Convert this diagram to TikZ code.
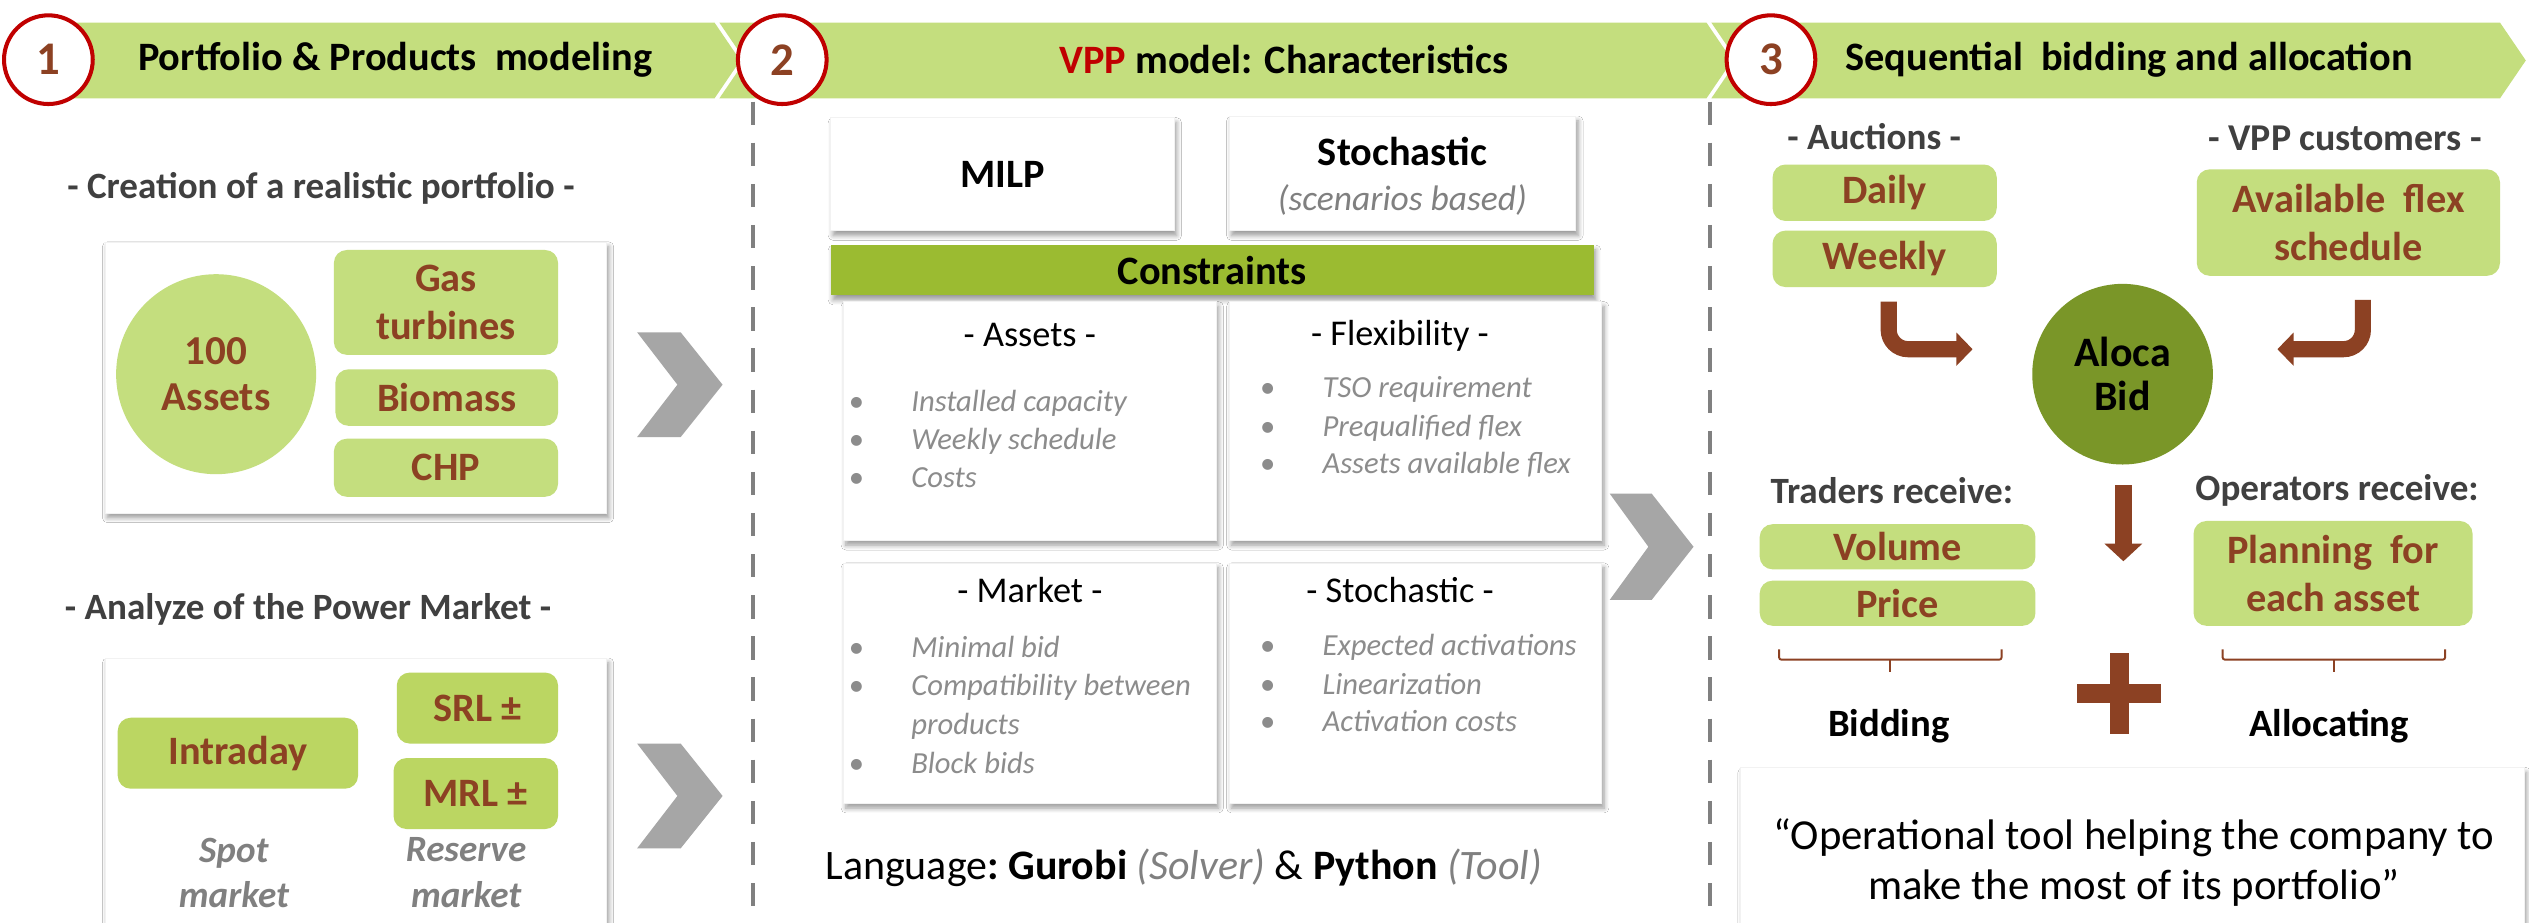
\documentclass[tikz,border=0pt]{standalone}
\usepackage{fontspec}
\setmainfont{Carlito}
\usetikzlibrary{shadows.blur,arrows.meta,calc}
\definecolor{lgreen}{RGB}{196,222,126}
\definecolor{mgreen}{RGB}{187,214,98}
\definecolor{cgreen}{RGB}{155,187,49}
\definecolor{agreen}{RGB}{122,150,40}
\definecolor{mybrown}{RGB}{140,65,35}
\definecolor{cred}{RGB}{192,0,0}
\definecolor{dgray}{RGB}{64,64,64}
\definecolor{mgray}{RGB}{128,128,128}
\definecolor{lgray}{RGB}{140,140,140}
\definecolor{chev}{RGB}{166,166,166}
\newcommand\fsz[2]{\fontsize{#1}{#2}\selectfont}
\tikzset{
  every node/.style={inner sep=0pt, outer sep=0pt},
  wbox/.style={fill=white, draw=black!5, line width=0.4pt,
    blur shadow={shadow xshift=1.5pt, shadow yshift=-3pt, shadow blur radius=3pt, shadow blur steps=6, shadow opacity=40}},
  gbox/.style={fill=lgreen, rounded corners=8pt, text=mybrown, font=\bfseries\fsz{25}{30}, align=center},
  ibox/.style={gbox, fill=mgreen},
  numc/.style={circle, draw=cred, line width=2.5pt, fill=white, minimum size=55pt, text=mybrown, font=\bfseries\fsz{29}{30}},
  htext/.style={font=\bfseries\fsz{25}{30}},
  subt/.style={font=\bfseries\fsz{23}{27}, text=dgray},
  ctitle/.style={font=\fsz{22.5}{26}},
  bul/.style={font=\fsz{19}{23}, text=lgray, anchor=mid},
  btext/.style={font=\itshape\fsz{19}{23}, text=lgray, anchor=mid west},
  chevron/.style={fill=chev},
  barrow/.style={draw=mybrown, line width=10pt, rounded corners=12pt, -{Triangle[length=10pt, width=20pt]}},
  darrow/.style={draw=mybrown, line width=11pt, -{Triangle[length=11pt, width=23pt]}},
  vdash/.style={draw=mgray, line width=2.5pt, dash pattern=on 14.5pt off 11pt},
}
\begin{document}
\begin{tikzpicture}[x=1pt,y=-1pt]
\useasboundingbox (0,0) rectangle (1568,572);
\fill[white] (0,0) rectangle (1568,572);

% header bars
\fill[lgreen] (30,14) -- (443,14) -- (459,37.5) -- (443,61) -- (30,61) -- cycle;
\fill[lgreen] (446,14) -- (1058,14) -- (1074,37.5) -- (1058,61) -- (446,61) -- (462,37.5) -- cycle;
\fill[lgreen] (1061,14) -- (1550,14) -- (1566,37.5) -- (1550,61) -- (1061,61) -- (1077,37.5) -- cycle;

% dashed separators
\draw[vdash] (467,63) -- (467,572);
\draw[vdash] (1060,63) -- (1060,572);

\node[numc] (c1) at (30,37) {1};
\node[numc] (c2) at (485,37) {2};
\node[numc] (c3) at (1098,37) {3};
\node[htext] (h1) at (245,37) {Portfolio \& Products\ \ modeling};
\node[htext] (h2) at (796,37) {\textcolor{cred}{VPP} model: Characteristics};
\node[htext] (h3) at (1320,37) {Sequential\ \ bidding and allocation};

% ---------- panel 1
\node[subt] (t1) at (199,117) {- Creation of a realistic portfolio -};
\node[wbox, minimum width=311pt, minimum height=168pt] (box1) at (220.5,234) {};
\node[circle, fill=lgreen, minimum size=124pt, text=mybrown, font=\bfseries\fsz{25.5}{29}, align=center] (assets) at (134,232) {100\\Assets};
\node[gbox, minimum width=139pt, minimum height=65pt] (gas) at (276.5,187.5) {Gas\\turbines};
\node[gbox, minimum width=138pt, minimum height=35pt] (bio) at (277,246.5) {Biomass};
\node[gbox, minimum width=139pt, minimum height=36pt] (chp) at (276.5,290) {CHP};

\node[subt] (t2) at (191,378) {- Analyze of the Power Market -};
\node[wbox, minimum width=311pt, minimum height=170pt] (box2) at (220.5,493) {};
\node[ibox, minimum width=149pt, minimum height=44pt] (intra) at (147.5,467) {Intraday};
\node[ibox, minimum width=100pt, minimum height=44pt] (srl) at (296,439) {SRL ±};
\node[ibox, minimum width=102pt, minimum height=44pt] (mrl) at (295,492) {MRL ±};
\node[font=\bfseries\itshape\fsz{23}{28}, text=mgray, align=center] (spot) at (145,541) {Spot\\market};
\node[font=\bfseries\itshape\fsz{23}{28}, text=mgray, align=center] (reserve) at (289,541) {Reserve\\market};

\fill[chevron] (395,206) -- (422,206) -- (448,238.5) -- (422,271) -- (395,271) -- (420,238.5) -- cycle;
\fill[chevron] (395,461) -- (422,461) -- (448,493.5) -- (422,526) -- (395,526) -- (420,493.5) -- cycle;

% ---------- panel 2
\node[wbox, minimum width=213pt, minimum height=70pt, font=\bfseries\fsz{25}{30}] (milp) at (621.5,108) {MILP};
\node[wbox, minimum width=215pt, minimum height=71pt] (stoch) at (869.5,107.5) {};
\node[font=\bfseries\fsz{25}{30}] (stocht) at (869.5,94) {Stochastic};
\node[font=\itshape\fsz{22}{26}, text=mgray] (scen) at (869.5,124) {(scenarios based)};
\node[fill=cgreen, minimum width=473pt, minimum height=31pt, font=\bfseries\fsz{25}{30},
  blur shadow={shadow xshift=1.5pt, shadow yshift=-3pt, shadow blur radius=3pt, shadow blur steps=6, shadow opacity=40}] (cons) at (751.5,167.5) {Constraints};

\node[wbox, minimum width=231pt, minimum height=148pt] (ca) at (638.5,261) {};
\node[wbox, minimum width=231pt, minimum height=148pt] (cf) at (877.5,261) {};
\node[wbox, minimum width=231pt, minimum height=149pt] (cm) at (638.5,423.5) {};
\node[wbox, minimum width=231pt, minimum height=149pt] (cs) at (877.5,423.5) {};

\node[ctitle] (cat) at (638.5,208) {- Assets -};
\node[ctitle] (cft) at (868,208) {- Flexibility -};
\node[ctitle] (cmt) at (638.5,366) {- Market -};
\node[ctitle] (cst) at (868,366) {- Stochastic -};

\node[bul] (ba1) at (531,253) {•}; \node[btext] (ta1) at (565,253) {Installed capacity};
\node[bul] (ba2) at (531,276) {•}; \node[btext] (ta2) at (565,276) {Weekly schedule};
\node[bul] (ba3) at (531,300) {•}; \node[btext] (ta3) at (565,300) {Costs};

\node[bul] (bf1) at (786,244) {•}; \node[btext] (tf1) at (820,244) {TSO requirement};
\node[bul] (bf2) at (786,268) {•}; \node[btext] (tf2) at (820,268) {Prequalified flex};
\node[bul] (bf3) at (786,291) {•}; \node[btext] (tf3) at (820,291) {Assets available flex};

\node[bul] (bm1) at (531,405) {•}; \node[btext] (tm1) at (565,405) {Minimal bid};
\node[bul] (bm2) at (531,429) {•}; \node[btext] (tm2) at (565,429) {Compatibility between};
\node[btext] (tm2b) at (565,453) {products};
\node[bul] (bm3) at (531,477) {•}; \node[btext] (tm3) at (565,477) {Block bids};

\node[bul] (bs1) at (786,404) {•}; \node[btext] (ts1) at (820,404) {Expected activations};
\node[bul] (bs2) at (786,428) {•}; \node[btext] (ts2) at (820,428) {Linearization};
\node[bul] (bs3) at (786,451) {•}; \node[btext] (ts3) at (820,451) {Activation costs};

\node[font=\fsz{26}{30}] (lang) at (734,538) {Language\textbf{:\ Gurobi} \textcolor{mgray}{\textit{(Solver)}} \& \textbf{Python} \textcolor{mgray}{\textit{(Tool)}}};

\fill[chevron] (998,306) -- (1024,306) -- (1050,339) -- (1024,372) -- (998,372) -- (1022,339) -- cycle;

% ---------- panel 3
\node[subt] (auct) at (1162,85) {- Auctions -};
\node[subt, font=\bfseries\fsz{23.5}{27}] (vppc) at (1454,86) {- VPP customers -};
\node[gbox, minimum width=139pt, minimum height=35pt] (daily) at (1168.5,119.5) {Daily};
\node[gbox, minimum width=139pt, minimum height=35pt] (weekly) at (1168.5,160.5) {Weekly};
\node[gbox, minimum width=188pt, minimum height=66pt] (avail) at (1456,138) {Available\ \ flex\\schedule};
\node[circle, fill=agreen, minimum size=112pt, font=\bfseries\fsz{26}{27}, align=center] (aloca) at (1316,232) {Aloca\\Bid};

\coordinate (la1) at (1171,187);
\coordinate (la2) at (1223,216.5);
\coordinate (ra1) at (1465,186);
\coordinate (ra2) at (1412,216.5);
\draw[barrow] (la1) |- (la2);
\draw[barrow] (ra1) |- (ra2);

\node[subt] (trad) at (1173,304) {Traders receive:};
\node[subt] (oper) at (1449,304) {Operators receive:};
\coordinate (da1) at (1316.5,301);
\coordinate (da2) at (1316.5,348);
\draw[darrow] (da1) -- (da2);

\node[gbox, minimum width=171pt, minimum height=28pt] (vol) at (1176.5,339) {Volume};
\node[gbox, minimum width=171pt, minimum height=28pt] (price) at (1176.5,374) {Price};
\node[gbox, minimum width=173pt, minimum height=65pt] (plan) at (1446.5,355.5) {Planning\ \ for\\each asset};

\draw[mybrown, line width=1.2pt, rounded corners=1.5pt] (1103,402.6) -- (1103,409) -- (1241,409) -- (1241,402.6);
\draw[mybrown, line width=1.2pt] (1172,409) -- (1172,416.4);
\draw[mybrown, line width=1.2pt, rounded corners=1.5pt] (1378,402.6) -- (1378,409) -- (1516,409) -- (1516,402.6);
\draw[mybrown, line width=1.2pt] (1447,409) -- (1447,416.4);

\node[font=\bfseries\fsz{24}{28}] (bidd) at (1171,450) {Bidding};
\node[font=\bfseries\fsz{24}{28}] (alloc) at (1444,450) {Allocating};
\fill[mybrown] (1308,405) rectangle (1320,455);
\fill[mybrown] (1288,424) rectangle (1340,436);

\node[wbox, minimum width=486pt, minimum height=100pt] (qbox) at (1322,526) {};
\node[font=\fsz{26.5}{31}, align=center] (quote) at (1323,534.5) {“Operational tool helping the company to\\make the most of its portfolio”};
\end{tikzpicture}
\end{document}
